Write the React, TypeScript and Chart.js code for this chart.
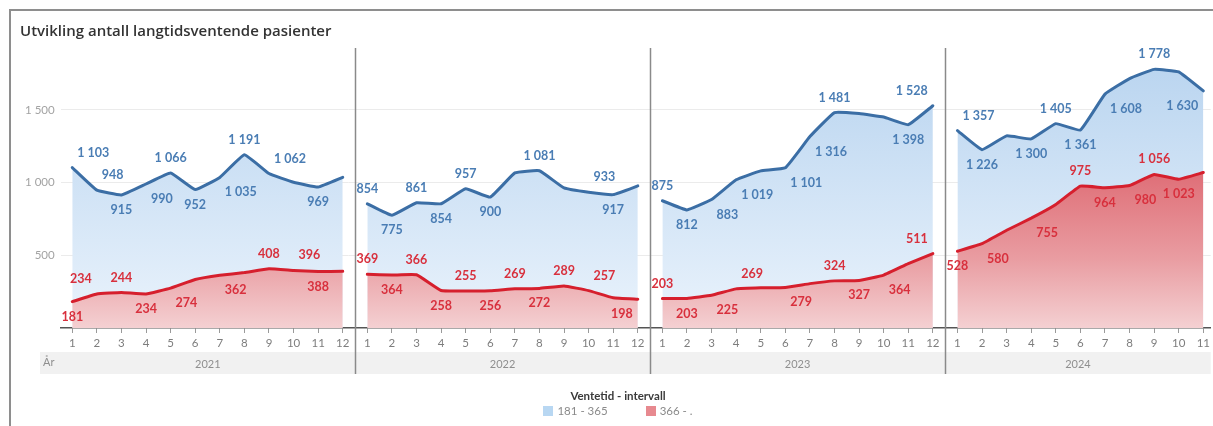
import React, { useEffect, useRef } from 'react';
import { Chart, registerables } from 'chart.js';

Chart.register(...registerables);

// Years shown as panels along the x axis
const years = ['2021', '2022', '2023', '2024'];
const monthLabels = ['1', '2', '3', '4', '5', '6', '7', '8', '9', '10', '11', '12'];

// Patients waiting 181 - 365 days, per month
const wait181_2021 = [1103, 948, 915, 990, 1066, 952, 1035, 1191, 1062, 1002, 969, 1036];
const wait181_2022 = [854, 775, 861, 854, 957, 900, 1066, 1081, 963, 933, 917, 977];
const wait181_2023 = [875, 812, 883, 1019, 1080, 1101, 1316, 1481, 1474, 1451, 1398, 1528];
const wait181_2024 = [1357, 1226, 1321, 1300, 1405, 1361, 1608, 1715, 1778, 1761, 1630];

// Patients waiting 366 days or more, per month
const wait366_2021 = [181, 234, 244, 234, 274, 333, 362, 381, 408, 396, 388, 390];
const wait366_2022 = [369, 364, 366, 258, 255, 256, 269, 272, 289, 257, 208, 198];
const wait366_2023 = [203, 203, 225, 269, 276, 279, 305, 324, 327, 364, 443, 511];
const wait366_2024 = [528, 580, 672, 755, 849, 975, 964, 980, 1056, 1023, 1069];

// Value-label placement per point: a = above, b = below, r/l = shifted right/left, '' = hidden
const side181_2021 = ['ar', 'ar', 'b', 'br', 'a', 'b', 'br', 'a', 'ar', '', 'b', ''];
const side181_2022 = ['a', 'b', 'a', 'b', 'a', 'b', '', 'a', '', 'ar', 'b', ''];
const side181_2023 = ['a', 'b', 'br', 'br', '', 'br', 'br', 'a', '', '', 'b', 'al'];
const side181_2024 = ['ar', 'b', '', 'b', 'a', 'b', 'br', '', 'a', '', 'bl'];
const side366_2021 = ['b', 'al', 'a', 'b', 'br', '', 'br', '', 'a', 'ar', 'b', ''];
const side366_2022 = ['a', 'b', 'a', 'b', 'a', 'b', 'a', 'b', 'a', 'ar', '', 'bl'];
const side366_2023 = ['a', 'b', 'br', 'ar', '', 'br', '', 'a', 'b', 'br', '', 'al'];
const side366_2024 = ['b', 'br', '', 'br', '', 'a', 'b', 'br', 'a', 'b', ''];

const series181 = [wait181_2021, wait181_2022, wait181_2023, wait181_2024];
const series366 = [wait366_2021, wait366_2022, wait366_2023, wait366_2024];
const sides181 = [side181_2021, side181_2022, side181_2023, side181_2024];
const sides366 = [side366_2021, side366_2022, side366_2023, side366_2024];

const legendTitle = 'Ventetid - intervall';
const legendLabels = ['181 - 365', '366 - .'];

const BLUE_LINE = '#3b6ea5';
const BLUE_TEXT = '#4a7db4';
const RED_LINE = '#d61f2d';
const RED_TEXT = '#d8303d';
const FONT = 'Lato, "Open Sans", sans-serif';

const fmt = (v: number) => String(Math.round(v)).replace(/\B(?=(\d{3})+(?!\d))/g, ' ');

export default function App() {
  const canvasRef = useRef<HTMLCanvasElement | null>(null);

  useEffect(() => {
    const canvas = canvasRef.current;
    if (!canvas) return;

    const tickIndex: number[] = [];
    const tickText: string[] = [];
    years.forEach((_, k) => {
      series181[k].forEach((__, i) => {
        tickIndex.push(k * 12 + i);
        tickText[k * 12 + i] = monthLabels[i];
      });
    });

    const blueFill = (ctx: any) => {
      const area = ctx.chart.chartArea;
      if (!area) return '#d6e7f7';
      const g = ctx.chart.ctx.createLinearGradient(0, area.top, 0, area.bottom);
      g.addColorStop(0, '#b7d3ef');
      g.addColorStop(1, '#eaf3fc');
      return g;
    };
    const redFill = (ctx: any) => {
      const area = ctx.chart.chartArea;
      if (!area) return '#eaa3a7';
      const g = ctx.chart.ctx.createLinearGradient(0, area.top, 0, area.bottom);
      g.addColorStop(0, '#d02c3a');
      g.addColorStop(0.75, '#e99ca1');
      g.addColorStop(1, '#f4d0d2');
      return g;
    };

    const labelInfo: { sides: string[]; color: string }[] = [];
    const datasets: any[] = [];
    years.forEach((_, k) => {
      datasets.push({
        label: legendLabels[1],
        data: series366[k].map((v, i) => ({ x: k * 12 + i, y: v })),
        borderColor: RED_LINE,
        backgroundColor: redFill,
        fill: 'origin',
        order: 0,
      });
      labelInfo.push({ sides: sides366[k], color: RED_TEXT });
    });
    years.forEach((_, k) => {
      datasets.push({
        label: legendLabels[0],
        data: series181[k].map((v, i) => ({ x: k * 12 + i, y: v })),
        borderColor: BLUE_LINE,
        backgroundColor: blueFill,
        fill: 'origin',
        order: 1,
      });
      labelInfo.push({ sides: sides181[k], color: BLUE_TEXT });
    });

    const valueLabels = {
      id: 'valueLabels',
      afterDatasetsDraw(chart: any) {
        const c = chart.ctx;
        c.save();
        c.font = `bold 12.5px ${FONT}`;
        c.textBaseline = 'middle';
        chart.data.datasets.forEach((ds: any, di: number) => {
          const info = labelInfo[di];
          const meta = chart.getDatasetMeta(di);
          meta.data.forEach((pt: any, i: number) => {
            const side = info.sides[i];
            if (!side) return;
            const ty = side[0] === 'a' ? pt.y - 15 : pt.y + 15;
            let tx = pt.x;
            c.textAlign = 'center';
            if (side[1] === 'r') { c.textAlign = 'left'; tx = pt.x + 5; }
            if (side[1] === 'l') { c.textAlign = 'right'; tx = pt.x - 5; }
            c.fillStyle = info.color;
            c.fillText(fmt(ds.data[i].y), tx, ty);
          });
        });
        c.restore();
      },
    };

    const yearBand = {
      id: 'yearBand',
      afterDraw(chart: any) {
        const c = chart.ctx;
        const xs = chart.scales.x;
        const area = chart.chartArea;
        const bandTop = 352;
        const bandBottom = 374;
        c.save();
        c.fillStyle = '#f1f1f1';
        c.fillRect(40, bandTop, area.right - 40, bandBottom - bandTop);
        c.font = `11px ${FONT}`;
        c.fillStyle = '#8f8f8f';
        c.textBaseline = 'middle';
        c.textAlign = 'left';
        c.fillText('År', 43, 362);
        c.textAlign = 'center';
        years.forEach((y, k) => {
          const left = Math.max(area.left, xs.getPixelForValue(k * 12 - 0.5));
          const right = Math.min(area.right, xs.getPixelForValue(k * 12 + 11.5));
          c.fillText(y, (left + right) / 2, 364);
        });
        c.strokeStyle = '#8a8a8a';
        c.lineWidth = 1.5;
        for (let k = 1; k < years.length; k++) {
          const x = Math.round(xs.getPixelForValue(k * 12 - 0.5)) + 0.5;
          c.beginPath();
          c.moveTo(x, area.top);
          c.lineTo(x, bandBottom);
          c.stroke();
        }
        c.restore();
      },
    };

    const chart = new Chart(canvas, {
      type: 'line',
      data: { datasets },
      options: {
        animation: false,
        responsive: false,
        devicePixelRatio: 1,
        layout: { padding: { left: 10, top: 48, right: 0, bottom: 50 } },
        elements: {
          line: { borderWidth: 3, tension: 0.1, borderJoinStyle: 'round', borderCapStyle: 'round' },
          point: { radius: 0, hoverRadius: 0 },
        },
        scales: {
          x: {
            type: 'linear',
            min: -0.47,
            max: 46.3,
            afterBuildTicks: (axis: any) => {
              axis.ticks = tickIndex.map((value) => ({ value }));
            },
            afterFit: (axis: any) => {
              axis.height = 48;
            },
            ticks: {
              autoSkip: false,
              maxRotation: 0,
              padding: 3,
              color: '#7d7d7d',
              font: { family: FONT, size: 11.5 },
              callback: (v: any) => tickText[Math.round(Number(v))] ?? '',
            },
            grid: { drawOnChartArea: false, drawTicks: true, tickLength: 5, color: '#9a9a9a' },
            border: { color: '#555555', width: 1.5 },
          },
          y: {
            min: 0,
            max: 1925,
            afterBuildTicks: (axis: any) => {
              axis.ticks = [0, 500, 1000, 1500].map((value) => ({ value }));
            },
            afterFit: (axis: any) => {
              axis.width = 50.7;
            },
            ticks: {
              padding: 6,
              color: '#a3a3a3',
              font: { family: FONT, size: 11.5 },
              callback: (v: any) => (Number(v) === 0 ? '' : fmt(Number(v))),
            },
            grid: {
              drawTicks: false,
              lineWidth: 1,
              color: (ctx: any) => (ctx.tick && ctx.tick.value === 0 ? 'rgba(0,0,0,0)' : '#ebebeb'),
            },
            border: { display: false },
          },
        },
        plugins: {
          legend: { display: false },
          title: { display: false },
          tooltip: { enabled: false },
        },
      },
      plugins: [valueLabels, yearBand],
    });

    return () => chart.destroy();
  }, []);

  return (
    <div
      style={{
        position: 'fixed',
        left: 0,
        top: 0,
        width: 1213,
        height: 426,
        background: '#ffffff',
        overflow: 'hidden',
        fontFamily: FONT,
      }}
    >
      <canvas ref={canvasRef} width={1213} height={426} style={{ position: 'absolute', left: 0, top: 0 }} />
      <div
        style={{
          position: 'absolute',
          left: 9,
          top: 9,
          right: -4,
          bottom: -4,
          borderTop: '2px solid #8e8e8e',
          borderLeft: '2px solid #8e8e8e',
          pointerEvents: 'none',
        }}
      />
      <div
        style={{
          position: 'absolute',
          left: 20,
          top: 20,
          fontFamily: '"Open Sans", Lato, sans-serif',
          fontSize: 15,
          fontWeight: 600,
          color: '#333333',
          lineHeight: '20px',
          whiteSpace: 'nowrap',
        }}
      >
        Utvikling antall langtidsventende pasienter
      </div>
      <div
        style={{
          position: 'absolute',
          left: 0,
          width: 1236,
          top: 389,
          textAlign: 'center',
          fontSize: 11.5,
          fontWeight: 700,
          color: '#3a3a3a',
          lineHeight: '14px',
        }}
      >
        {legendTitle}
      </div>
      <div
        style={{
          position: 'absolute',
          left: 0,
          width: 1236,
          top: 404,
          display: 'flex',
          justifyContent: 'center',
          alignItems: 'center',
          fontSize: 11.5,
          color: '#8a8a8a',
          lineHeight: '14px',
        }}
      >
        <span style={{ display: 'inline-block', width: 10, height: 10, background: '#b8d7f2', marginRight: 4 }} />
        <span style={{ marginRight: 38 }}>{legendLabels[0]}</span>
        <span style={{ display: 'inline-block', width: 10, height: 10, background: '#e7898f', marginRight: 4 }} />
        <span>{legendLabels[1]}</span>
      </div>
    </div>
  );
}
